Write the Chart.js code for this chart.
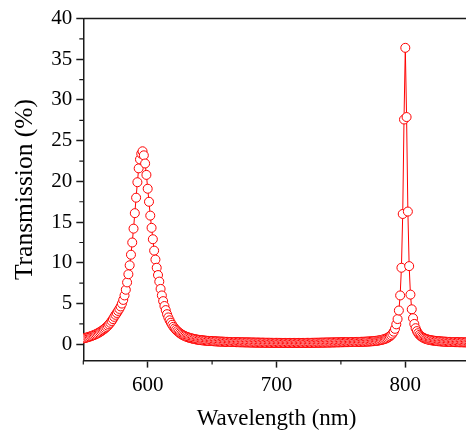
<!DOCTYPE html>
<html>
<head>
<meta charset="utf-8">
<script src="https://cdn.jsdelivr.net/npm/chart.js@4.4.0/dist/chart.umd.min.js"></script>
<style>
    html, body { margin: 0; padding: 0; background: #fff; overflow: hidden; }
    #wrap { position: relative; width: 480px; height: 434px; }
</style>
</head>
<body>
<div id="wrap"><canvas id="specChart" width="480" height="434"></canvas></div>
<script>
// Sampling grid of the spectrum (nm)
const wlStart = 550;
const wlStep = 1;

// Transmission (%), one value per nm from 550 to 850
const transmission = [
    0.72, 0.76, 0.80, 0.85, 0.90, 0.95, 1.00, 1.06, 1.12, 1.19, // 550
    1.26, 1.34, 1.43, 1.52, 1.62, 1.73, 1.85, 1.98, 2.12, 2.28, // 560
    2.45, 2.64, 2.86, 3.10, 3.37, 3.62, 3.85, 4.10, 4.35, 4.65, // 570
    5.00, 5.45, 6.00, 6.70, 7.60, 8.60, 9.70, 11.0, 12.5, 14.2, // 580
    16.1, 18.0, 19.9, 21.6, 22.7, 23.4, 23.7, 23.2, 22.2, 20.8, // 590
    19.1, 17.5, 15.8, 14.3, 12.9, 11.5, 10.4, 9.40, 8.50, 7.70, // 600
    6.80, 6.00, 5.30, 4.70, 4.20, 3.70, 3.30, 2.95, 2.65, 2.40, // 610
    2.15, 1.95, 1.78, 1.62, 1.48, 1.36, 1.25, 1.15, 1.07, 1.00, // 620
    0.93, 0.87, 0.82, 0.77, 0.73, 0.69, 0.65, 0.62, 0.59, 0.56, // 630
    0.54, 0.52, 0.50, 0.48, 0.46, 0.45, 0.43, 0.42, 0.41, 0.40, // 640
    0.39, 0.38, 0.37, 0.36, 0.35, 0.34, 0.34, 0.33, 0.32, 0.32, // 650
    0.31, 0.30, 0.30, 0.29, 0.29, 0.28, 0.28, 0.27, 0.27, 0.26, // 660
    0.26, 0.25, 0.25, 0.25, 0.24, 0.24, 0.24, 0.23, 0.23, 0.23, // 670
    0.22, 0.22, 0.22, 0.21, 0.21, 0.21, 0.21, 0.20, 0.20, 0.20, // 680
    0.20, 0.19, 0.19, 0.19, 0.19, 0.19, 0.18, 0.18, 0.18, 0.18, // 690
    0.18, 0.18, 0.18, 0.17, 0.17, 0.17, 0.17, 0.17, 0.17, 0.17, // 700
    0.17, 0.17, 0.17, 0.17, 0.17, 0.17, 0.17, 0.17, 0.17, 0.17, // 710
    0.17, 0.17, 0.17, 0.18, 0.18, 0.18, 0.18, 0.18, 0.18, 0.19, // 720
    0.19, 0.19, 0.19, 0.20, 0.20, 0.20, 0.21, 0.21, 0.21, 0.22, // 730
    0.22, 0.22, 0.22, 0.23, 0.23, 0.23, 0.24, 0.24, 0.24, 0.25, // 740
    0.25, 0.25, 0.26, 0.26, 0.26, 0.27, 0.27, 0.27, 0.28, 0.28, // 750
    0.28, 0.28, 0.29, 0.29, 0.30, 0.30, 0.31, 0.31, 0.32, 0.32, // 760
    0.33, 0.34, 0.35, 0.36, 0.37, 0.38, 0.40, 0.42, 0.44, 0.46, // 770
    0.49, 0.52, 0.56, 0.60, 0.65, 0.71, 0.78, 0.87, 0.98, 1.12, // 780
    1.30, 1.55, 1.90, 2.45, 3.10, 4.15, 6.00, 9.40, 16.0, 27.6, // 790
    36.4, 27.9, 16.3, 9.60, 6.10, 4.30, 3.20, 2.50, 1.98, 1.62, // 800
    1.36, 1.16, 1.01, 0.89, 0.80, 0.72, 0.66, 0.61, 0.57, 0.53, // 810
    0.50, 0.47, 0.45, 0.43, 0.41, 0.39, 0.38, 0.36, 0.35, 0.34, // 820
    0.33, 0.32, 0.31, 0.30, 0.30, 0.29, 0.28, 0.28, 0.27, 0.27, // 830
    0.26, 0.26, 0.25, 0.25, 0.25, 0.24, 0.24, 0.24, 0.23, 0.23, // 840
    0.23                                                        // 850
];

// Axis ticks
const xMajorTicks = [600, 700, 800];
const xMinorTicks = [550, 650, 750, 850];
const yMajorTicks = [0, 5, 10, 15, 20, 25, 30, 35, 40];
const yMinorTicks = [2.5, 7.5, 12.5, 17.5, 22.5, 27.5, 32.5, 37.5];

const serif = 'Liberation Serif, "Times New Roman", serif';
const axisColor = '#1a1a1a';

const points = transmission.map((t, i) => ({ x: wlStart + i * wlStep, y: t }));

// top border + minor ticks, drawn through the chart's own scales
const framePlugin = {
    id: 'frame',
    afterDraw(chart) {
        const { ctx, chartArea: a, scales: { x, y } } = chart;
        ctx.save();
        ctx.strokeStyle = axisColor;
        ctx.lineWidth = 1.5;
        ctx.beginPath();
        ctx.moveTo(a.left, a.top);
        ctx.lineTo(a.right, a.top);
        ctx.lineTo(a.right, a.bottom);
        ctx.stroke();

        ctx.lineWidth = 1.2;
        ctx.beginPath();
        yMinorTicks.forEach(v => {
            const py = y.getPixelForValue(v);
            ctx.moveTo(a.left - 4, py);
            ctx.lineTo(a.left, py);
        });
        xMinorTicks.forEach(v => {
            const px = x.getPixelForValue(v);
            ctx.moveTo(px, a.bottom);
            ctx.lineTo(px, a.bottom + 4);
        });
        ctx.stroke();
        ctx.restore();
    }
};

const ctx = document.getElementById('specChart').getContext('2d');
new Chart(ctx, {
    type: 'line',
    data: {
        datasets: [{
            data: points,
            borderColor: 'rgb(255, 0, 0)',
            borderWidth: 1,
            pointRadius: 4.5,
            pointBorderWidth: 1,
            pointBorderColor: 'rgb(255, 0, 0)',
            pointBackgroundColor: '#ffffff',
            tension: 0,
            fill: false
        }]
    },
    options: {
        responsive: false,
        animation: false,
        layout: { padding: { top: 18.5, right: 10.3, left: 0, bottom: 0 } },
        plugins: {
            legend: { display: false },
            tooltip: { enabled: false }
        },
        scales: {
            x: {
                type: 'linear',
                min: 550,
                max: 850,
                afterBuildTicks: s => { s.ticks = xMajorTicks.map(v => ({ value: v })); },
                afterFit: s => { s.height = 73.4; },
                grid: { drawOnChartArea: false, tickLength: 7, tickColor: axisColor, tickWidth: 1.5 },
                border: { color: axisColor, width: 1.5 },
                ticks: { color: '#000', font: { family: serif, size: 21 }, padding: 5, maxRotation: 0 },
                title: {
                    display: true,
                    text: 'Wavelength (nm)',
                    color: '#000',
                    font: { family: serif, size: 23, lineHeight: 1 },
                    padding: { top: 0, bottom: 3.5 }
                }
            },
            y: {
                min: -2,
                max: 40,
                afterBuildTicks: s => { s.ticks = yMajorTicks.map(v => ({ value: v })); },
                afterFit: s => { s.width = 83.3; },
                grid: { drawOnChartArea: false, tickLength: 7, tickColor: axisColor, tickWidth: 1.5 },
                border: { color: axisColor, width: 1.5 },
                ticks: { color: '#000', font: { family: serif, size: 21 }, padding: 4 },
                title: {
                    display: true,
                    text: 'Transmission (%)',
                    color: '#000',
                    font: { family: serif, size: 25.5, lineHeight: 1 },
                    padding: { top: 12.5, bottom: 0 }
                }
            }
        }
    },
    plugins: [framePlugin]
});
</script>
</body>
</html>
